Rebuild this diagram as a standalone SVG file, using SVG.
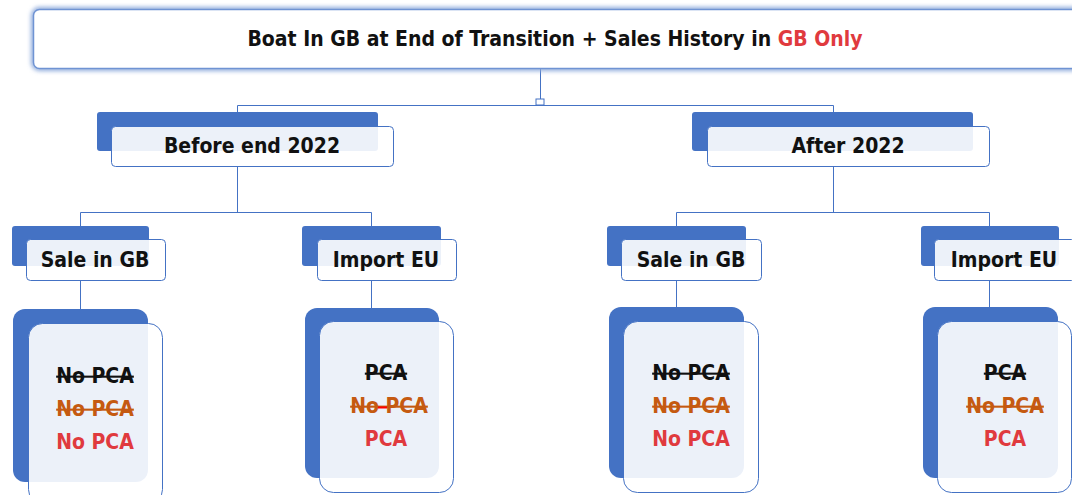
<svg xmlns="http://www.w3.org/2000/svg" width="1072" height="495" viewBox="0 0 1072 495">
  <defs>
    <filter id="glow" x="-5%" y="-30%" width="110%" height="160%">
      <feGaussianBlur stdDeviation="2"/>
    </filter>
  </defs>
  <style>
    text { font-family: "DejaVu Sans Condensed", "DejaVu Sans", "Liberation Sans", sans-serif; font-weight: bold; text-anchor: middle; font-size: 21px; fill: #111; }
    .back { fill: #4472c4; }
    .front { fill: #ffffff; fill-opacity: 0.9; stroke: #4472c4; stroke-width: 1; }
    .wire { fill: none; stroke: #4472c4; stroke-width: 1; }
    .red { fill: #e03a3e; }
    .strike { text-decoration: line-through; text-decoration-thickness: 2px; }
    .orange { fill: #c55a11; }
  </style>
  <rect width="1072" height="495" fill="#ffffff"/>

  <!-- connectors -->
  <g id="connectors">
    <line class="wire" x1="540.5" y1="56" x2="540.5" y2="99" stroke="#7f8fa9"/>
    <rect x="536" y="99" width="8" height="6" fill="#ffffff" stroke="#4472c4" stroke-width="1"/>
    <polyline class="wire" points="237.5,126 237.5,105.5 833.5,105.5 833.5,126"/>
    <polyline class="wire" points="237.5,167 237.5,212.5"/>
    <polyline class="wire" points="80.5,239 80.5,212.5 371.5,212.5 371.5,239"/>
    <polyline class="wire" points="833.5,167 833.5,212.5"/>
    <polyline class="wire" points="676.5,239 676.5,212.5 989.5,212.5 989.5,239"/>
    <line class="wire" x1="80.5" y1="281" x2="80.5" y2="309"/>
    <line class="wire" x1="371.5" y1="281" x2="371.5" y2="308"/>
    <line class="wire" x1="676.5" y1="281" x2="676.5" y2="307"/>
    <line class="wire" x1="989.5" y1="281" x2="989.5" y2="307"/>
  </g>

  <!-- root -->
  <g id="root">
    <rect x="33.5" y="9.5" width="1060" height="59" rx="6" fill="none" stroke="#8eaadb" stroke-width="5" filter="url(#glow)"/>
    <rect x="33.5" y="9.5" width="1060" height="59" rx="6" fill="#ffffff" stroke="#6f93d3" stroke-width="1.5"/>
    <text x="555" y="46">Boat In GB at End of Transition + Sales History in <tspan class="red">GB Only</tspan></text>
  </g>

  <!-- first level -->
  <g id="before-2022">
    <rect class="back" x="97" y="112" width="281" height="39" rx="3"/>
    <rect class="front" x="111.5" y="126.5" width="282" height="40" rx="4"/>
    <text x="252" y="153">Before end 2022</text>
  </g>
  <g id="after-2022">
    <rect class="back" x="692" y="112" width="281" height="39" rx="3"/>
    <rect class="front" x="707.5" y="126.5" width="282" height="40" rx="4"/>
    <text x="848" y="153">After 2022</text>
  </g>

  <!-- second level -->
  <g id="before-sale-gb">
    <rect class="back" x="12" y="226" width="137" height="40" rx="3"/>
    <rect class="front" x="26.5" y="239.5" width="139" height="41" rx="4"/>
    <text x="95" y="267">Sale in GB</text>
  </g>
  <g id="before-import-eu">
    <rect class="back" x="302" y="226" width="139" height="40" rx="3"/>
    <rect class="front" x="317.5" y="239.5" width="139" height="41" rx="4"/>
    <text x="386" y="267">Import EU</text>
  </g>
  <g id="after-sale-gb">
    <rect class="back" x="607" y="226" width="139" height="40" rx="3"/>
    <rect class="front" x="621.5" y="239.5" width="140" height="41" rx="4"/>
    <text x="691" y="267">Sale in GB</text>
  </g>
  <g id="after-import-eu">
    <rect class="back" x="921" y="226" width="138" height="40" rx="3"/>
    <rect class="front" x="934.5" y="239.5" width="141" height="41" rx="4"/>
    <text x="1004" y="267">Import EU</text>
  </g>

  <!-- outcomes -->
  <g id="before-sale-gb-result">
    <rect class="back" x="13" y="309" width="135" height="173" rx="12"/>
    <rect class="front" x="28.5" y="323.5" width="134" height="180" rx="14"/>
    <text x="95" y="383" class="strike">No PCA</text>
    <text x="95" y="416" class="strike orange">No PCA</text>
    <text x="95" y="449" class="red">No PCA</text>
  </g>
  <g id="before-import-eu-result">
    <rect class="back" x="305" y="308" width="134" height="170" rx="12"/>
    <rect class="front" x="319.5" y="321.5" width="134" height="171" rx="14"/>
    <text x="386" y="380" class="strike">PCA</text>
    <text x="389" y="413" class="strike orange">No PCA</text>
    <line x1="378" y1="407.5" x2="387" y2="407.5" stroke="#ff0000" stroke-width="2"/>
    <text x="386" y="446" class="red">PCA</text>
  </g>
  <g id="after-sale-gb-result">
    <rect class="back" x="609" y="307" width="135" height="171" rx="12"/>
    <rect class="front" x="623.5" y="321.5" width="135" height="171" rx="14"/>
    <text x="691" y="380" class="strike">No PCA</text>
    <text x="691" y="413" class="strike orange">No PCA</text>
    <text x="691" y="446" class="red">No PCA</text>
  </g>
  <g id="after-import-eu-result">
    <rect class="back" x="923" y="307" width="135" height="171" rx="12"/>
    <rect class="front" x="937.5" y="321.5" width="134" height="171" rx="14"/>
    <text x="1005" y="380" class="strike">PCA</text>
    <text x="1005" y="413" class="strike orange">No PCA</text>
    <text x="1005" y="446" class="red">PCA</text>
  </g>
</svg>
